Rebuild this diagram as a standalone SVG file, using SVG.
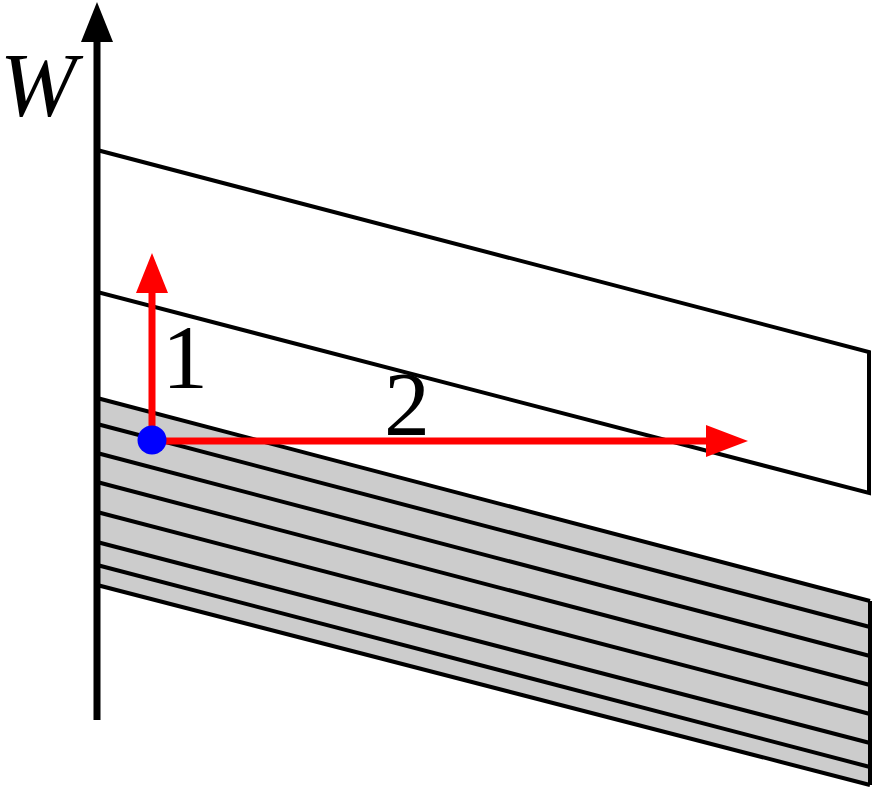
<svg xmlns="http://www.w3.org/2000/svg" width="874" height="789" viewBox="0 0 874 789">
<style>
.edge{fill:none;stroke:#000;stroke-width:4}
.hatch{stroke:#000;stroke-width:4}
.red{stroke:#ff0000;stroke-width:7;fill:none}
</style>
<rect width="874" height="789" fill="#fff"/>
<g id="upper-band">
<polygon class="edge" points="97,150 869,352 869,493 97,292"/>
</g>
<g id="lower-band">
<polygon points="97,398 870,601 870,785 97,585" fill="#cccccc"/>
<g class="hatch">
<line x1="97" y1="398" x2="870" y2="601"/>
<line x1="97" y1="424" x2="870" y2="627"/>
<line x1="97" y1="453" x2="870" y2="656"/>
<line x1="97" y1="482" x2="870" y2="685"/>
<line x1="97" y1="512" x2="870" y2="714"/>
<line x1="97" y1="542" x2="870" y2="743"/>
<line x1="97" y1="565" x2="870" y2="767"/>
<line x1="97" y1="585" x2="870" y2="785"/>
<line x1="870" y1="601" x2="870" y2="785"/>
</g>
</g>
<g id="axis">
<line x1="97" y1="720" x2="97" y2="38" stroke="#000" stroke-width="7"/>
<polygon points="97,2 81,42 113,42" fill="#000"/>
<text x="38" y="116" font-family="Liberation Serif, Times New Roman, serif" font-size="92" font-style="italic" text-anchor="middle" fill="#000">W</text>
</g>
<g id="connectors">
<line class="red" x1="152" y1="440" x2="152" y2="288"/>
<polygon points="152,253 136,293 168,293" fill="#ff0000"/>
<line class="red" x1="152" y1="441" x2="710" y2="441"/>
<polygon points="748,441 706,425 706,457" fill="#ff0000"/>
</g>
<g id="labels" font-family="Liberation Serif, Times New Roman, serif" font-size="92" text-anchor="middle" fill="#000">
<text x="185" y="388">1</text>
<text x="407" y="435">2</text>
</g>
<g id="point">
<circle cx="152" cy="440" r="14.5" fill="#0000ff"/>
</g>
</svg>
